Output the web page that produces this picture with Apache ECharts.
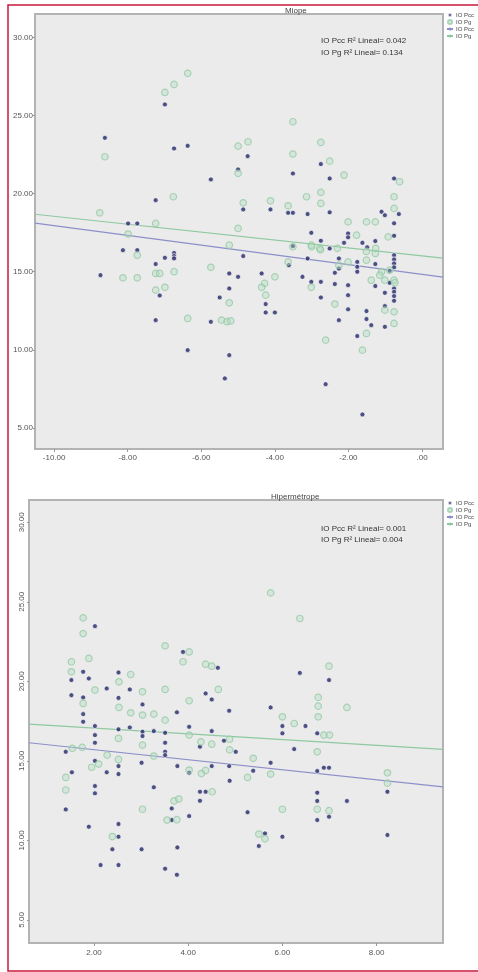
<!DOCTYPE html>
<html>
<head>
<meta charset="utf-8">
<script src="https://cdn.jsdelivr.net/npm/echarts@6/dist/echarts.min.js"></script>
<style>
html,body{margin:0;padding:0;background:#fff;}
#c{width:478px;height:972px;}
</style>
</head>
<body>
<div id="c"></div>
<script>
// ---------- Miope (top) ----------
const topTitle = 'Miope';
const topXTicks = [-10, -8, -6, -4, -2, 0];
const topYTicks = [5, 10, 15, 20, 25, 30];
const topXRange = [-10.52, 0.57];
const topYRange = [3.65, 31.5];
const topNotes = ['IO Pcc R\u00b2 Lineal= 0.042', 'IO Pg R\u00b2 Lineal= 0.134'];

const topPcc = [
  [-6.99,25.71],[-8.62,23.57],[-6.74,22.89],[-6.37,23.06],[-5.74,20.91],[-7.24,19.58],[-4.74,22.40],[-5.0,21.55],
  [-4.86,18.99],[-4.12,18.99],[-3.51,21.29],[-3.64,18.77],[-3.51,18.77],[-3.11,18.69],[-2.75,21.89],[-2.51,20.97],
  [-2.51,18.80],[-7.99,18.09],[-7.74,18.09],[-0.76,20.97],[-1.10,18.84],[-1.01,18.62],[-0.63,18.69],[-0.76,18.10],
  [-0.76,17.30],[-2.01,17.45],[-2.01,17.20],[-3.01,17.49],
  [-8.13,16.38],[-7.74,16.38],[-6.74,16.2],[-6.74,16.0],[-6.74,15.85],[-6.99,15.89],[-7.24,15.49],[-8.74,14.78],
  [-7.13,13.48],[-7.24,11.90],[-6.37,9.98],[-5.74,11.79],[-5.50,13.35],[-5.24,14.89],[-5.24,13.93],[-5.0,14.67],
  [-5.24,9.66],[-5.36,8.17],[-4.86,16.0],[-4.36,14.89],[-4.25,12.93],[-4.25,12.39],[-4.0,12.39],[-3.62,15.42],
  [-3.51,16.64],[-3.25,14.67],[-3.11,15.85],[-3.01,14.35],[-2.75,14.35],[-2.75,16.98],[-2.75,13.35],[-2.51,16.49],
  [-2.26,15.85],[-2.26,11.90],[-2.37,14.93],[-2.37,14.21],[-2.26,15.2],[-2.12,16.85],[-2.01,14.14],[-2.01,13.5],
  [-2.01,12.59],[-1.76,15.63],[-1.76,15.31],[-1.76,15.0],[-1.76,10.88],[-1.62,16.85],[-1.49,16.56],[-1.51,12.48],
  [-1.51,11.97],[-1.38,11.58],[-1.27,16.96],[-1.27,15.49],[-1.27,14.08],[-1.01,13.65],[-1.01,12.80],[-1.01,11.47],
  [-0.88,15.06],[-0.88,14.29],[-0.76,16.06],[-0.76,15.79],[-0.76,15.53],[-0.76,15.28],[-0.76,13.93],[-0.76,13.71],
  [-0.76,13.44],[-0.76,13.14],[-2.62,7.80],[-1.62,5.86]
];
const topPg = [
  [-6.37,27.70],[-6.74,26.99],[-6.99,26.48],[-8.62,22.36],[-8.76,18.77],[-6.76,19.80],[-7.24,18.09],[-5.0,23.04],
  [-4.73,23.32],[-5.0,21.3],[-4.86,19.41],[-4.12,19.54],[-5.0,17.77],[-3.51,24.60],[-3.51,22.53],[-3.64,19.22],
  [-2.75,23.28],[-2.51,22.08],[-2.12,21.18],[-2.75,20.08],[-2.75,19.37],[-3.14,19.80],[-2.01,18.19],[-1.51,18.19],
  [-1.27,18.19],[-0.76,19.80],[-0.76,19.05],[-0.61,20.76],[-1.78,17.34],[-0.92,17.23],
  [-7.99,17.41],[-7.74,16.06],[-8.13,14.61],[-7.74,14.61],[-7.24,14.89],[-7.13,14.89],[-6.74,15.0],[-7.24,13.82],
  [-6.99,14.0],[-6.37,12.01],[-5.74,15.28],[-5.24,16.70],[-5.24,13.01],[-5.45,11.9],[-5.3,11.8],[-5.2,11.85],
  [-4.28,14.25],[-4.36,14.0],[-4.25,13.5],[-4.0,14.67],[-3.64,15.63],[-3.01,16.70],[-2.78,16.49],[-3.01,14.0],
  [-2.62,10.62],[-2.37,12.93],[-2.26,15.42],[-2.01,15.63],[-1.51,15.74],[-1.27,16.17],[-1.38,14.46],[-1.10,15.0],
  [-1.01,14.46],[-1.51,11.05],[-1.62,9.98],[-0.76,14.46],[-0.76,12.43],[-0.76,11.69],[-1.01,12.54],[-3.51,16.6],
  [-2.3,16.5],[-1.26,16.5],[-1.51,16.3],[-0.74,14.3],[-1.15,14.78],[-0.88,15.1],[-2.76,16.4],[-3.0,16.6]
];
const topPccFit = [[-10.52,18.11],[0.57,14.65]];
const topPgFit = [[-10.52,18.68],[0.57,15.87]];

// ---------- Hipermétrope (bottom) ----------
const botTitle = 'Hiperm\u00e9trope';
const botXTicks = [2, 4, 6, 8];
const botYTicks = [5, 10, 15, 20, 25, 30];
const botXRange = [0.62, 9.41];
const botYRange = [3.55, 31.4];
const botNotes = ['IO Pcc R\u00b2 Lineal= 0.001', 'IO Pg R\u00b2 Lineal= 0.004'];

const botPcc = [
  [2.02,23.47],[3.89,21.85],[4.63,20.85],[1.77,20.6],[2.52,20.56],[1.89,20.18],[1.52,20.08],[2.27,19.55],
  [2.76,19.49],[1.52,19.13],[1.77,18.99],[2.52,18.96],[3.03,18.55],[1.77,17.94],[1.77,17.46],[2.02,17.19],
  [3.76,18.05],[4.37,19.24],[4.50,18.86],[4.87,18.15],[5.75,18.36],[6.37,20.53],[6.99,20.08],[6.49,17.19],
  [6.0,17.19],[4.02,17.14],[2.52,16.98],[2.76,17.1],[3.03,16.83],[3.03,16.56],[3.27,16.87],[3.51,16.76],
  [4.50,16.87],[2.02,16.62],[2.02,16.14],[3.51,16.14],[3.51,15.57],[3.51,15.36],[1.40,15.57],[4.25,15.89],
  [4.76,16.27],[5.01,15.57],[2.02,15.0],[2.52,14.67],[2.52,14.17],[2.27,14.28],[1.53,14.28],[3.01,14.88],
  [3.77,14.67],[4.02,14.26],[4.50,14.67],[4.87,14.67],[4.88,13.75],[5.38,14.38],[5.75,14.88],[6.25,15.74],
  [6.0,16.73],[6.74,16.73],[6.74,14.36],[6.88,14.57],[6.99,14.57],[6.74,13.0],[6.74,12.48],[7.37,12.48],
  [6.74,11.28],[6.99,11.49],[8.23,13.06],[8.23,10.34],[2.02,13.42],[2.02,12.96],[1.40,11.95],[3.27,13.34],
  [4.25,13.06],[4.37,13.06],[4.25,12.49],[3.65,12.01],[4.02,11.53],[3.65,11.28],[5.26,11.77],[1.89,10.86],
  [2.52,11.03],[2.52,10.23],[2.39,9.44],[3.01,9.44],[3.77,9.56],[5.63,10.44],[6.0,10.23],[5.50,9.65],
  [2.14,8.45],[2.52,8.45],[3.51,8.22],[3.76,7.84]
];
const botPg = [
  [5.75,25.56],[6.37,23.95],[1.77,23.99],[1.77,23.0],[1.89,21.44],[1.52,21.23],[1.52,20.6],[2.53,19.97],
  [2.78,20.43],[2.02,19.45],[1.77,18.61],[2.53,18.36],[3.03,19.34],[2.78,18.02],[3.03,17.88],[3.27,17.94],
  [3.51,22.23],[3.51,19.49],[3.51,17.56],[3.89,21.23],[4.02,21.85],[4.02,18.78],[4.37,21.08],[4.5,20.95],
  [4.64,19.49],[6.76,18.99],[6.76,18.44],[6.76,17.77],[6.99,20.95],[7.37,18.36],[6.0,17.77],[6.25,17.35],
  [2.52,16.41],[3.03,15.99],[1.75,15.85],[1.54,15.79],[2.28,15.36],[3.27,15.3],[4.02,16.62],[4.27,16.2],
  [4.50,16.05],[4.88,16.36],[4.88,15.69],[5.38,15.16],[5.75,14.17],[5.26,13.96],[4.28,14.2],[4.37,14.4],
  [4.02,14.42],[1.95,14.6],[2.1,14.8],[2.52,15.09],[1.40,13.96],[1.40,13.17],[3.03,11.96],[3.7,12.48],
  [3.8,12.6],[3.55,11.28],[3.76,11.3],[4.51,13.06],[6.0,11.96],[6.74,15.57],[6.74,11.96],[6.99,11.87],
  [6.88,16.62],[7.0,16.62],[8.23,14.25],[8.23,13.6],[2.39,10.24],[5.5,10.4],[5.63,10.1]
];
const botPccFit = [[0.62,16.14],[9.41,13.37]];
const botPgFit = [[0.62,17.31],[9.41,15.72]];

const seriesNames = ['IO Pcc', 'IO Pg', 'IO Pcc ', 'IO Pg '];

// ---------- styles ----------
const FONT = 'Liberation Sans, Arial, sans-serif';
const LABEL = '#555';
const PCC_COLOR = '#242868';
const PG_BORDER = '#96cca6';
const PG_FILL = 'rgba(178,220,190,0.45)';
const PCC_LINE = '#8c90c8';
const PG_LINE = '#8ec9a0';

function fmt(v){ return v === 0 ? '.00' : v.toFixed(2); }

function xAxis(grid, range, ticks, margin){
  return {
    type:'value', gridIndex:grid, min:range[0], max:range[1],
    axisLine:{show:false, onZero:false}, splitLine:{show:false},
    axisTick:{show:true, customValues:ticks, length:3, lineStyle:{color:'#999'}},
    axisLabel:{customValues:ticks, formatter:fmt, fontSize:8, color:LABEL, fontFamily:FONT, margin:margin}
  };
}
function yAxis(grid, range, ticks, rotate, margin){
  return {
    type:'value', gridIndex:grid, min:range[0], max:range[1], position:'left',
    axisLine:{show:false, onZero:false}, splitLine:{show:false},
    axisTick:{show:true, customValues:ticks, length:2, lineStyle:{color:'#999'}},
    axisLabel:{customValues:ticks, formatter:fmt, fontSize:8, color:LABEL, fontFamily:FONT, margin:margin, rotate:rotate}
  };
}
function scatterPcc(i, data){
  return {name:seriesNames[0], type:'scatter', xAxisIndex:i, yAxisIndex:i, data:data, symbol:'circle', symbolSize:5,
    itemStyle:{color:PCC_COLOR, borderColor:'rgba(255,255,255,0.85)', borderWidth:1}, z:3};
}
function scatterPg(i, data){
  return {name:seriesNames[1], type:'scatter', xAxisIndex:i, yAxisIndex:i, data:data, symbol:'circle', symbolSize:6.5,
    itemStyle:{color:PG_FILL, borderColor:PG_BORDER, borderWidth:1.2}, z:4};
}
function fitLine(i, name, data, color){
  return {name:name, type:'line', xAxisIndex:i, yAxisIndex:i, data:data, symbol:'none', silent:true,
    lineStyle:{color:color, width:1.2}, itemStyle:{color:color}, z:2};
}
function legend(top){
  return {
    data:[{name:seriesNames[0], icon:'circle'},{name:seriesNames[1], icon:'circle'},seriesNames[2],seriesNames[3]],
    orient:'vertical', left:446, top:top, padding:0, itemGap:1, itemWidth:6, itemHeight:4,
    textStyle:{fontSize:6, lineHeight:5, color:'#444', fontFamily:FONT, padding:[0,0,0,-2]},
    selectedMode:false
  };
}

const chart = echarts.init(document.getElementById('c'), null, {renderer:'canvas'});
chart.setOption({
  animation:false,
  backgroundColor:'#fff',
  title:[
    {text:topTitle, left:285, top:7, padding:0, textStyle:{fontSize:8, fontWeight:'normal', color:'#444', fontFamily:FONT}},
    {text:botTitle, left:271, top:493, padding:0, textStyle:{fontSize:8, fontWeight:'normal', color:'#444', fontFamily:FONT}}
  ],
  legend:[legend(12), legend(500)],
  grid:[
    {left:35, top:14, width:408, height:435, show:true, backgroundColor:'#ebebeb', borderColor:'#b3b3b3', borderWidth:2},
    {left:29, top:500, width:414, height:443, show:true, backgroundColor:'#ebebeb', borderColor:'#b3b3b3', borderWidth:2}
  ],
  xAxis:[xAxis(0, topXRange, topXTicks, 5), xAxis(1, botXRange, botXTicks, 6)],
  yAxis:[yAxis(0, topYRange, topYTicks, 0, 2), yAxis(1, botYRange, botYTicks, 90, 3)],
  series:[
    fitLine(0, seriesNames[2], topPccFit, PCC_LINE),
    fitLine(0, seriesNames[3], topPgFit, PG_LINE),
    scatterPcc(0, topPcc),
    scatterPg(0, topPg),
    fitLine(1, seriesNames[2], botPccFit, PCC_LINE),
    fitLine(1, seriesNames[3], botPgFit, PG_LINE),
    scatterPcc(1, botPcc),
    scatterPg(1, botPg)
  ],
  graphic:[
    {type:'rect', silent:true, z:-1, shape:{x:8, y:5, width:480, height:966}, style:{fill:'none', stroke:'#c8193c', lineWidth:1.5}},
    {type:'text', silent:true, x:321, y:37, style:{text:topNotes[0], fontSize:8, fill:'#333', fontFamily:FONT}},
    {type:'text', silent:true, x:321, y:49, style:{text:topNotes[1], fontSize:8, fill:'#333', fontFamily:FONT}},
    {type:'text', silent:true, x:321, y:525, style:{text:botNotes[0], fontSize:8, fill:'#333', fontFamily:FONT}},
    {type:'text', silent:true, x:321, y:536, style:{text:botNotes[1], fontSize:8, fill:'#333', fontFamily:FONT}}
  ]
});
</script>
</body>
</html>
